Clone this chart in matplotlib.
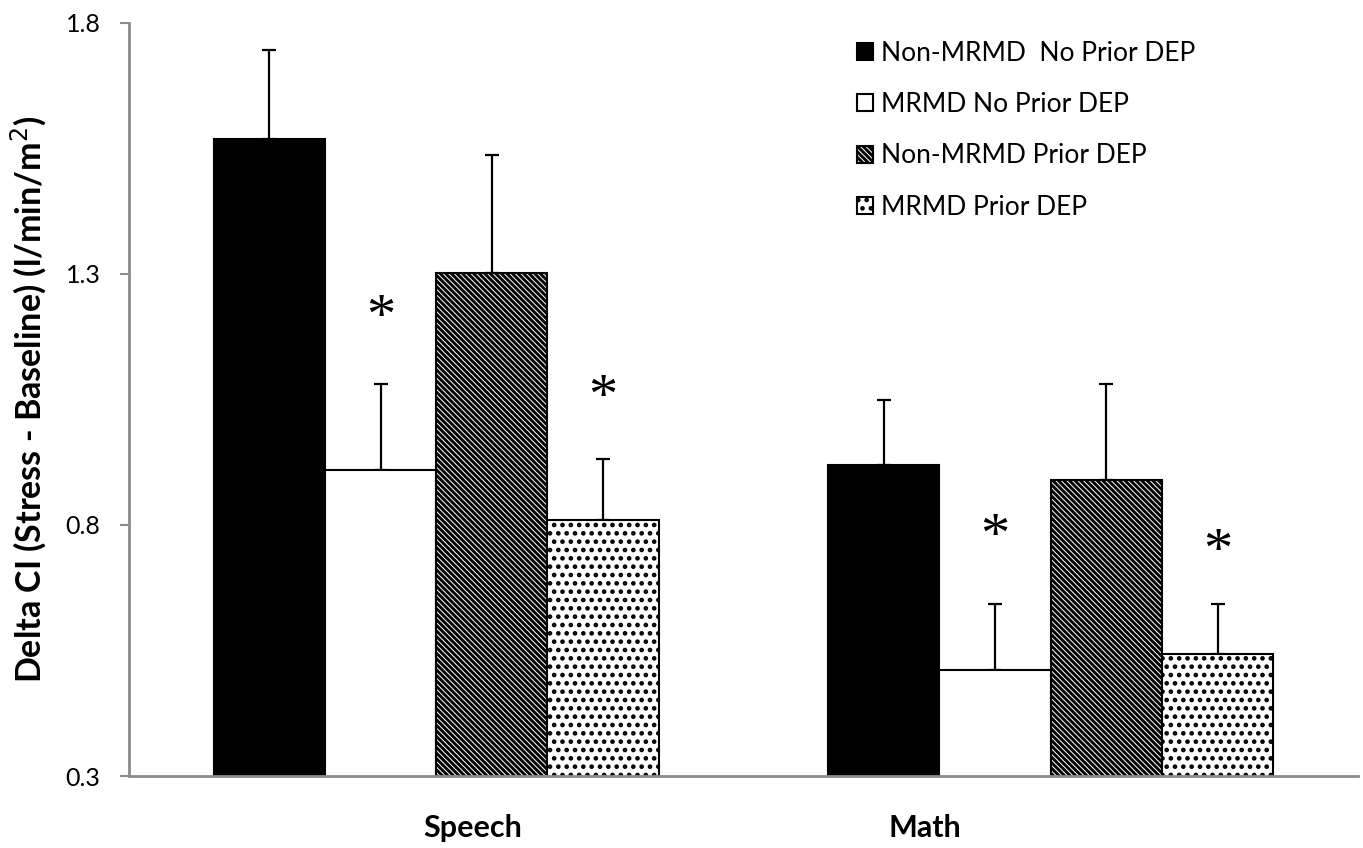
import matplotlib
import matplotlib.pyplot as plt
import numpy as np

matplotlib.use('Agg')

# Data
tasks = ['Speech', 'Math']
task_label_x = [0.06, 0.795]   # category labels sit off-centre in the original
groups = ['Non-MRMD  No Prior DEP', 'MRMD No Prior DEP',
          'Non-MRMD Prior DEP', 'MRMD Prior DEP']
means = [
    [1.569, 0.920],   # Non-MRMD No Prior DEP
    [0.910, 0.511],   # MRMD No Prior DEP
    [1.302, 0.890],   # Non-MRMD Prior DEP
    [0.810, 0.543],   # MRMD Prior DEP
]
errors = [
    [0.177, 0.129],
    [0.171, 0.131],
    [0.235, 0.191],
    [0.121, 0.100],
]
# significance stars (group index, task index, y)
stars = [(1, 0, 1.232), (3, 0, 1.073), (1, 1, 0.796), (3, 1, 0.766)]

faces = ['black', 'white', 'white', 'white']
hatches = [None, None, '\\' * 6, '..']

plt.rcParams['hatch.linewidth'] = 2.1
plt.rcParams['font.family'] = ['Lato', 'DejaVu Sans']

fig = plt.figure(figsize=(13.63, 8.48), dpi=100)
ax = fig.add_axes([0.0946, 0.0849, 0.9017, 0.8880])

x = np.arange(len(tasks))
w = 0.181
handles = []
for i in range(len(groups)):
    pos = x + (i - 1.5) * w
    b = ax.bar(pos, means[i], w, bottom=0, color=faces[i], edgecolor='black',
               linewidth=1.5, hatch=hatches[i], label=groups[i], zorder=2)
    ax.errorbar(pos, means[i], yerr=[np.zeros(len(tasks)), errors[i]],
                fmt='none', ecolor='black', elinewidth=1.6, capsize=5,
                capthick=1.6, zorder=1)
    handles.append(b)

# stars drawn slightly lower since the glyph sits high in its box
for gi, ti, sy in stars:
    ax.text(x[ti] + (gi - 1.5) * w, sy - 0.022, '*', fontsize=42, ha='center',
            va='center', family='Liberation Serif')

ax.set_xlim(-0.5, 1.5)
ax.set_ylim(0.3, 1.8)
ax.set_yticks([0.3, 0.8, 1.3, 1.8])
ax.set_yticklabels(['0.3', '0.8', '1.3', '1.8'], fontsize=18)
ax.set_xticks(task_label_x)
ax.set_xticklabels(tasks, fontsize=22, fontweight='bold')
ax.tick_params(axis='x', length=0, pad=27)
ax.tick_params(axis='y', length=6.5, width=1.5, color='#8c8c8c', pad=14)

for s in ['top', 'right']:
    ax.spines[s].set_visible(False)
for s in ['left', 'bottom']:
    ax.spines[s].set_color('#8c8c8c')
    ax.spines[s].set_linewidth(2)
    ax.spines[s].set_zorder(3)

ax.set_ylabel('Delta CI (Stress - Baseline) (l/min/m$^2$)', fontsize=24.5,
              fontweight='bold', labelpad=12)

fig.legend(handles=handles, labels=groups, loc='upper left',
           bbox_to_anchor=(0.611, 0.98), frameon=False, fontsize=19,
           handlelength=0.62, handleheight=0.62, handletextpad=0.3,
           labelspacing=1.0)

fig.savefig('out.png', dpi=100)
